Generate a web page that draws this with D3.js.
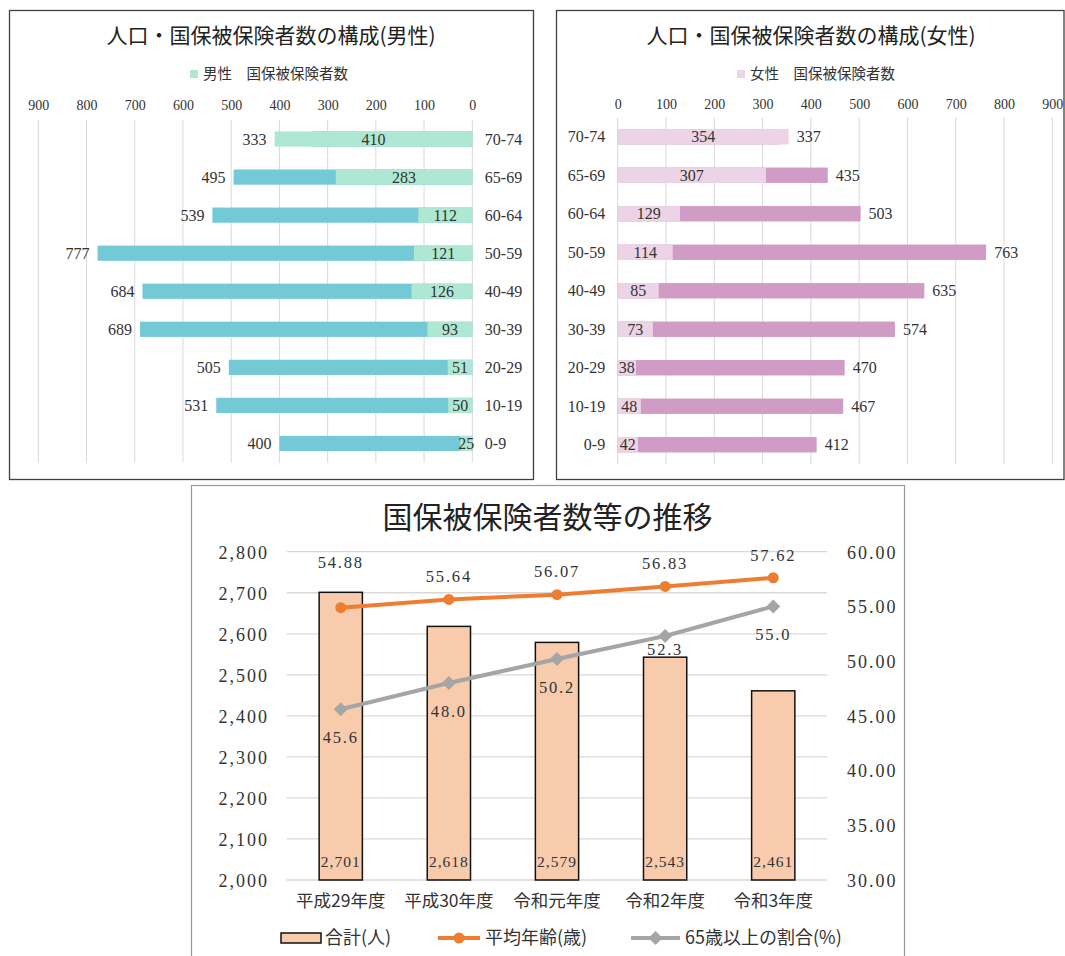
<!DOCTYPE html>
<html>
<head>
<meta charset="utf-8">
<script src="https://cdn.jsdelivr.net/npm/d3@7"></script>
<style>
  body { margin: 0; background: #fff; }
  svg { display: block; }
</style>
</head>
<body>
<svg id="chart" width="1065" height="956"></svg>
<script>
// ---- data ----
const ageGroups = ["70-74", "65-69", "60-64", "50-59", "40-49", "30-39", "20-29", "10-19", "0-9"];
const maleTotal = [333, 495, 539, 777, 684, 689, 505, 531, 400];
const maleInsured = [410, 283, 112, 121, 126, 93, 51, 50, 25];
const femaleTotal = [337, 435, 503, 763, 635, 574, 470, 467, 412];
const femaleInsured = [354, 307, 129, 114, 85, 73, 38, 48, 42];
const pyramidTicks = [0, 100, 200, 300, 400, 500, 600, 700, 800, 900];

const years = ["平成29年度", "平成30年度", "令和元年度", "令和2年度", "令和3年度"];
const totalCount = [2701, 2618, 2579, 2543, 2461];
const avgAge = [54.88, 55.64, 56.07, 56.83, 57.62];
const over65Ratio = [45.6, 48.0, 50.2, 52.3, 55.0];
const countTicks = [2000, 2100, 2200, 2300, 2400, 2500, 2600, 2700, 2800];
const ratioTicks = [30, 35, 40, 45, 50, 55, 60];

const FONT_NUM = "'Liberation Serif', 'Noto Sans CJK JP', serif";
const FONT_JP = "'Noto Sans CJK JP', 'Noto Sans', sans-serif";
const TEXT = "#333";

const svg = d3.select("#chart");
svg.append("rect").attr("width", 1065).attr("height", 956).attr("fill", "#fff");

// ---- population pyramids (one panel per sex) ----
function drawPyramid(cfg) {
  const g = svg.append("g");
  const x = d3.scaleLinear().domain([0, 900]).range(cfg.xRange);
  const y = d3.scaleBand().domain(ageGroups).range(cfg.yRange)
    .paddingInner(0.6).paddingOuter(0.3);
  const dir = Math.sign(cfg.xRange[1] - cfg.xRange[0]);

  g.append("rect")
    .attr("x", cfg.box[0]).attr("y", cfg.box[1])
    .attr("width", cfg.box[2]).attr("height", cfg.box[3])
    .attr("fill", "none").attr("stroke", "#404040").attr("stroke-width", 1.3);

  g.append("text")
    .attr("x", cfg.titleX).attr("y", 36).attr("dy", "0.35em")
    .attr("text-anchor", "middle")
    .style("font-family", FONT_JP).style("font-size", "21px").attr("fill", "#222")
    .text(cfg.title);

  const leg = g.append("g").attr("transform", `translate(${cfg.legendX},74)`);
  leg.append("rect").attr("x", 0).attr("y", -4).attr("width", 8).attr("height", 8)
    .attr("fill", cfg.insuredColor);
  leg.append("text").attr("x", 13).attr("y", 0).attr("dy", "0.35em")
    .style("font-family", FONT_JP).style("font-size", "14.5px").attr("fill", TEXT)
    .text(cfg.legend);

  // gridlines
  g.selectAll(".grid").data(pyramidTicks).enter().append("line")
    .attr("x1", d => x(d)).attr("x2", d => x(d))
    .attr("y1", cfg.yRange[0]).attr("y2", cfg.yRange[1])
    .attr("stroke", "#d9d9d9").attr("stroke-width", 1);

  const axis = g.append("g")
    .attr("transform", `translate(0,${cfg.tickY})`)
    .call(d3.axisTop(x).tickValues(pyramidTicks).tickSize(0));
  axis.select(".domain").remove();
  axis.selectAll("text")
    .attr("y", 0).attr("dy", "0.35em")
    .style("font-family", FONT_NUM).style("font-size", "14px").attr("fill", TEXT);

  const rows = ageGroups.map((a, i) => ({ age: a, total: cfg.total[i], insured: cfg.insured[i] }));

  g.selectAll(".tot").data(rows).enter().append("rect")
    .attr("x", d => Math.min(x(0), x(d.total)))
    .attr("width", d => Math.abs(x(d.total) - x(0)))
    .attr("y", d => y(d.age)).attr("height", y.bandwidth())
    .attr("fill", cfg.totalColor);

  g.selectAll(".ins").data(rows).enter().append("rect")
    .attr("x", d => Math.min(x(0), x(d.insured)))
    .attr("width", d => Math.abs(x(d.insured) - x(0)))
    .attr("y", d => y(d.age)).attr("height", y.bandwidth())
    .attr("fill", cfg.insuredColor);

  const mid = d => y(d.age) + y.bandwidth() / 2;

  g.selectAll(".insLab").data(rows).enter().append("text")
    .attr("x", d => (x(0) + x(d.insured)) / 2).attr("y", mid).attr("dy", "0.35em")
    .attr("text-anchor", "middle")
    .style("font-family", FONT_NUM).style("font-size", "16px").attr("fill", TEXT)
    .text(d => d.insured);

  g.selectAll(".totLab").data(rows).enter().append("text")
    .attr("x", d => x(Math.max(d.total, d.insured)) + dir * 8).attr("y", mid).attr("dy", "0.35em")
    .attr("text-anchor", dir > 0 ? "start" : "end")
    .style("font-family", FONT_NUM).style("font-size", "16px").attr("fill", TEXT)
    .text(d => d.total);

  g.selectAll(".age").data(rows).enter().append("text")
    .attr("x", x(0) - dir * 12.5).attr("y", mid).attr("dy", "0.35em")
    .attr("text-anchor", dir > 0 ? "end" : "start")
    .style("font-family", FONT_NUM).style("font-size", "16px").attr("fill", TEXT)
    .text(d => d.age);
}

drawPyramid({
  box: [9.5, 10.5, 524, 469],
  title: "人口・国保被保険者数の構成(男性)",
  titleX: 271,
  legend: "男性　国保被保険者数",
  legendX: 190,
  tickY: 105,
  xRange: [472.3, 38.3],
  yRange: [120, 462.5],
  total: maleTotal,
  insured: maleInsured,
  totalColor: "#73cad6",
  insuredColor: "#aee8d2"
});

drawPyramid({
  box: [556.5, 10.5, 507.5, 469],
  title: "人口・国保被保険者数の構成(女性)",
  titleX: 811,
  legend: "女性　国保被保険者数",
  legendX: 737,
  tickY: 104,
  xRange: [617.7, 1052.3],
  yRange: [117.5, 464],
  total: femaleTotal,
  insured: femaleInsured,
  totalColor: "#d09bc4",
  insuredColor: "#ecd3e6"
});

// ---- trend chart ----
const b = svg.append("g");
b.append("rect")
  .attr("x", 191.5).attr("y", 485.5).attr("width", 713).attr("height", 500)
  .attr("fill", "#fff").attr("stroke", "#999").attr("stroke-width", 1.2);

b.append("text")
  .attr("x", 547.5).attr("y", 517).attr("dy", "0.35em").attr("text-anchor", "middle")
  .style("font-family", FONT_JP).style("font-size", "30px").attr("fill", "#222")
  .text("国保被保険者数等の推移");

const xb = d3.scaleBand().domain(years).range([286.7, 827.3]).paddingInner(0.6).paddingOuter(0.3);
const yL = d3.scaleLinear().domain([2000, 2800]).range([880, 551.7]);
const yR = d3.scaleLinear().domain([30, 60]).range([880, 551.7]);

b.selectAll(".grid").data(countTicks).enter().append("line")
  .attr("x1", 286.7).attr("x2", 827.3)
  .attr("y1", d => yL(d)).attr("y2", d => yL(d))
  .attr("stroke", "#d9d9d9").attr("stroke-width", 1.3);

const axL = b.append("g").attr("transform", "translate(269,0)")
  .call(d3.axisLeft(yL).tickValues(countTicks).tickFormat(d3.format(",")).tickSize(0).tickPadding(0));
axL.select(".domain").remove();
axL.selectAll("text").attr("dy", "0.35em")
  .style("font-family", FONT_NUM).style("font-size", "18px").style("letter-spacing", "2px").attr("fill", TEXT);

const axR = b.append("g").attr("transform", "translate(847,0)")
  .call(d3.axisRight(yR).tickValues(ratioTicks).tickFormat(d3.format(".2f")).tickSize(0).tickPadding(0));
axR.select(".domain").remove();
axR.selectAll("text").attr("dy", "0.35em")
  .style("font-family", FONT_NUM).style("font-size", "18px").style("letter-spacing", "2px").attr("fill", TEXT);

const axB = b.append("g").attr("transform", "translate(0,901)")
  .call(d3.axisBottom(xb).tickSize(0).tickPadding(0));
axB.select(".domain").remove();
axB.selectAll("text").attr("y", 0).attr("dy", "0.35em")
  .style("font-family", FONT_JP).style("font-size", "17.5px").attr("fill", TEXT);

const trend = years.map((yr, i) => ({ yr, total: totalCount[i], age: avgAge[i], ratio: over65Ratio[i] }));
const cx = d => xb(d.yr) + xb.bandwidth() / 2;

b.selectAll(".bar").data(trend).enter().append("rect")
  .attr("x", d => xb(d.yr)).attr("width", xb.bandwidth())
  .attr("y", d => yL(d.total)).attr("height", d => yL(2000) - yL(d.total))
  .attr("fill", "#f8cbad").attr("stroke", "#111").attr("stroke-width", 1.5);

b.selectAll(".barLab").data(trend).enter().append("text")
  .attr("x", cx).attr("y", 862).attr("dy", "0.35em").attr("text-anchor", "middle")
  .style("font-family", FONT_NUM).style("font-size", "15.5px").style("letter-spacing", "1px").attr("fill", TEXT)
  .text(d => d3.format(",")(d.total));

const lineAge = d3.line().x(cx).y(d => yR(d.age));
const lineRatio = d3.line().x(cx).y(d => yR(d.ratio));

b.append("path").datum(trend).attr("d", lineRatio)
  .attr("fill", "none").attr("stroke", "#a5a5a5").attr("stroke-width", 4).attr("stroke-linejoin", "round");
b.append("path").datum(trend).attr("d", lineAge)
  .attr("fill", "none").attr("stroke", "#ed7d31").attr("stroke-width", 4).attr("stroke-linejoin", "round");

const diamond = "M0,-7L7,0L0,7L-7,0Z";
b.selectAll(".dia").data(trend).enter().append("path")
  .attr("d", diamond).attr("transform", d => `translate(${cx(d)},${yR(d.ratio)})`)
  .attr("fill", "#a5a5a5");
b.selectAll(".dot").data(trend).enter().append("circle")
  .attr("cx", cx).attr("cy", d => yR(d.age)).attr("r", 5.5).attr("fill", "#ed7d31");

// labels: above the orange points, below the gray ones, kept clear of bar tops
b.selectAll(".ageLab").data(trend).enter().append("text")
  .attr("x", cx).attr("y", d => Math.min(yR(d.age) - 23, yL(d.total) - 30)).attr("dy", "0.35em")
  .attr("text-anchor", "middle")
  .style("font-family", FONT_NUM).style("font-size", "16.5px").style("letter-spacing", "1.8px").attr("fill", TEXT)
  .text(d => d.age.toFixed(2));

b.selectAll(".ratioLab").data(trend).enter().append("text")
  .attr("x", cx)
  .attr("y", d => {
    let ly = yR(d.ratio) + 28;
    if (Math.abs(ly - yL(d.total)) < 10) ly = yL(d.total) - 8;
    return ly;
  })
  .attr("dy", "0.35em").attr("text-anchor", "middle")
  .style("font-family", FONT_NUM).style("font-size", "16.5px").style("letter-spacing", "1.8px").attr("fill", TEXT)
  .text(d => d.ratio.toFixed(1));

// legend
const lg = b.append("g").attr("transform", "translate(0,938)");
lg.append("rect").attr("x", 281).attr("y", -5).attr("width", 40).attr("height", 10)
  .attr("fill", "#f8cbad").attr("stroke", "#111").attr("stroke-width", 1.5);
lg.append("text").attr("x", 325).attr("y", 0).attr("dy", "0.35em")
  .style("font-family", FONT_JP).style("font-size", "18px").attr("fill", TEXT).text("合計(人)");

lg.append("line").attr("x1", 438).attr("x2", 480).attr("y1", 0).attr("y2", 0)
  .attr("stroke", "#ed7d31").attr("stroke-width", 4);
lg.append("circle").attr("cx", 459).attr("cy", 0).attr("r", 5.5).attr("fill", "#ed7d31");
lg.append("text").attr("x", 485).attr("y", 0).attr("dy", "0.35em")
  .style("font-family", FONT_JP).style("font-size", "18px").attr("fill", TEXT).text("平均年齢(歳)");

lg.append("line").attr("x1", 631).attr("x2", 680).attr("y1", 0).attr("y2", 0)
  .attr("stroke", "#a5a5a5").attr("stroke-width", 4);
lg.append("path").attr("d", diamond).attr("transform", "translate(655.5,0)").attr("fill", "#a5a5a5");
lg.append("text").attr("x", 685).attr("y", 0).attr("dy", "0.35em")
  .style("font-family", FONT_JP).style("font-size", "18px").attr("fill", TEXT).text("65歳以上の割合(%)");
</script>
</body>
</html>
